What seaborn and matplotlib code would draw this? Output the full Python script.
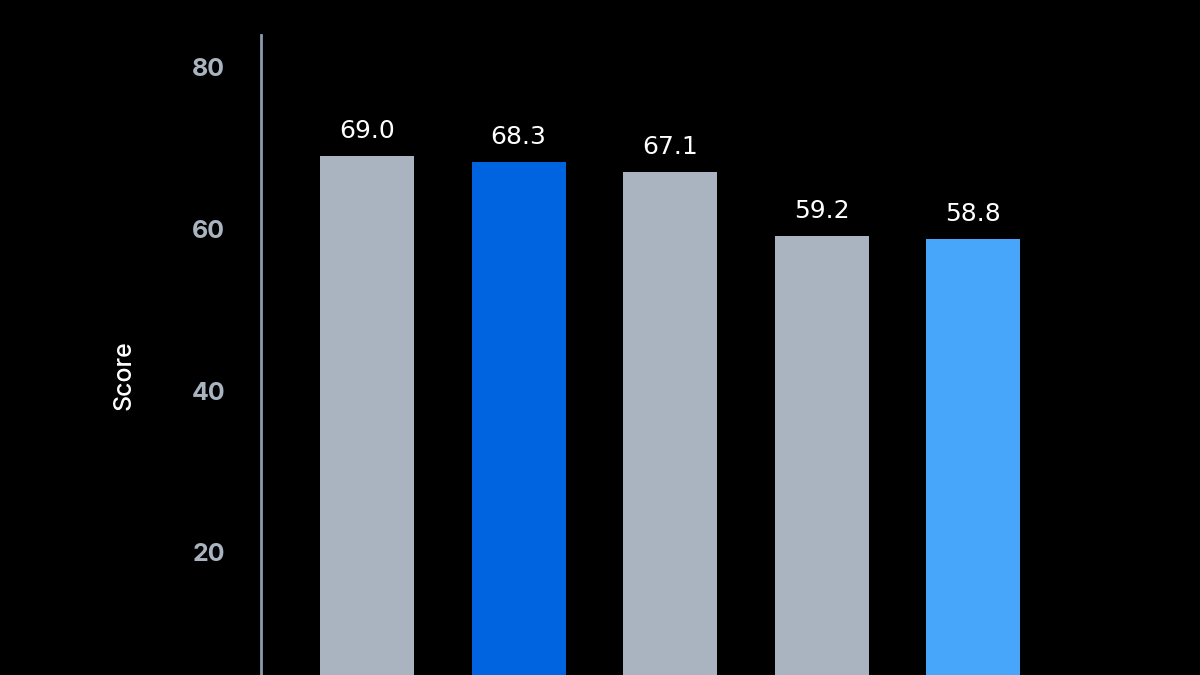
import numpy as np
import pandas as pd
import seaborn as sns
import matplotlib.pyplot as plt

# chart values (x labels are cut off in the reference)
models = ["Model A", "Model B", "Model C", "Model D", "Model E"]
scores = [69.0, 68.3, 67.1, 59.2, 58.8]
colors = ["#A9B4C0", "#0064E0", "#A9B4C0", "#A9B4C0", "#47A5FA"]
yticks = [20, 40, 60, 80]

df = pd.DataFrame({"model": models, "score": scores})

sns.set_style("dark")
plt.rcParams['font.family'] = ['Inter', 'DejaVu Sans']

fig = plt.figure(figsize=(12, 6.75), dpi=100, facecolor="black")
# axes runs past the bottom edge: the reference is cropped there
ax = fig.add_axes([0.2175, -0.058, 0.682, 1.006])
ax.set_facecolor("black")

sns.barplot(data=df, x="model", y="score", hue="model", palette=colors,
            width=0.62, legend=False, ax=ax, saturation=1,
            edgecolor="none", linewidth=0)

for i, v in enumerate(scores):
    ax.text(i, v + 1.6, f"{v:.1f}", ha="center", va="bottom",
            color="white", fontsize=18, family="DejaVu Sans")

ax.set_ylim(0, 84)
ax.set_xlim(-0.7, 4.7)
ax.set_yticks(yticks)
ax.set_yticklabels([str(t) for t in yticks], color="#A9B4C0",
                   fontsize=18, fontweight="bold")
ax.tick_params(axis="y", length=0, pad=26)
ax.set_xticks([])
ax.set_xlabel("")
ax.set_ylabel("Score", color="white", fontsize=18, labelpad=40,
              fontweight="medium")
ax.grid(False)

for s in ["top", "right", "bottom"]:
    ax.spines[s].set_visible(False)
ax.spines["left"].set_color("#8A9AAE")
ax.spines["left"].set_linewidth(2)

fig.savefig("out.png", dpi=100, facecolor="black")
